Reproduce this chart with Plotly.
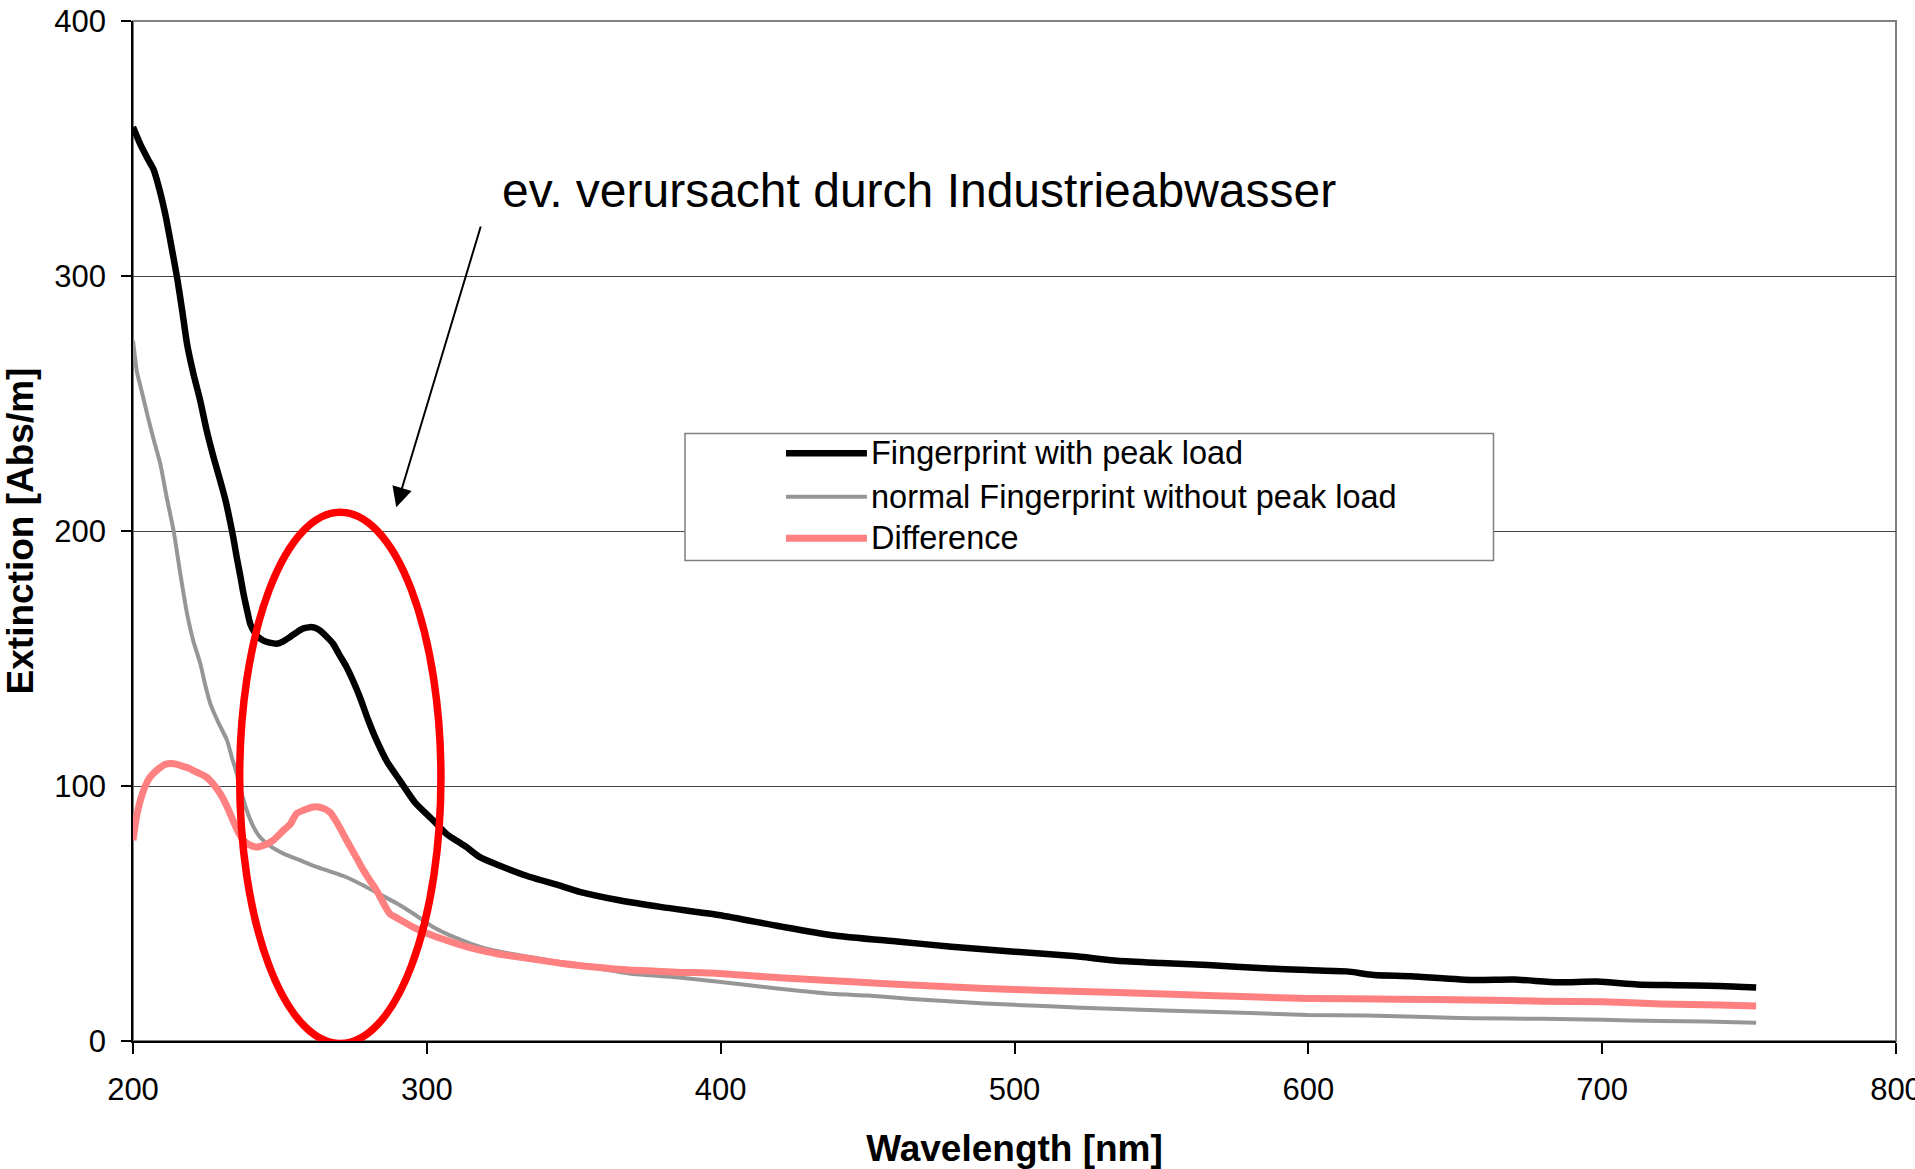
import plotly.graph_objects as go

# ---------------- data ----------------
wl_peak = [200, 202.5, 205, 207, 209, 211, 213, 215, 216.8, 218.4, 220.5, 222.9, 225.1, 227.4,
           229.7, 231.5, 233, 234.2, 235.3, 236.5, 237.6, 238.8, 239.9, 241.5, 243, 244.4, 246.5,
           248.9, 251, 253.4, 256, 258, 260.2, 262, 263.6, 265.5, 268.1, 270.2, 272.7, 275, 277.2,
           280, 282.9, 286.5, 290.8, 296, 302.1, 306.6, 313.4, 317.9, 324.7, 334.9, 345, 352, 365,
           380, 399.3, 420, 437.8, 460, 478.6, 500, 520, 535, 550, 565.7, 585, 599.6, 613, 622.3,
           635, 656.2, 670, 685, 698.3, 712, 725, 740, 752.4]
ext_peak = [358.4, 351.6, 346, 341.8, 334, 324.2, 312, 299.4, 286, 273.3, 262, 251, 239.3, 229,
            219.7, 212, 204, 197, 189.7, 182.5, 175.4, 169, 163.6, 160, 158, 157, 156.2,
            155.8, 156.6, 158.4, 160.5, 161.8, 162.3, 162, 161, 159, 155.8, 151.5, 146.6, 141, 134.9,
            126, 117.9, 109.5, 102.2, 93.5, 86.6, 81.3, 76.1, 72.2, 68.8, 64.4, 61, 58.5, 55.3,
            52.5, 49.4, 45, 41.5, 39, 37, 35, 33.3, 31.5, 30.6, 29.8, 28.5, 27.8, 27.3, 25.9,
            25.4, 23.9, 24.1, 23.0, 23.3, 22.2, 21.9, 21.6, 21.0]

wl_normal = [200, 201.4, 202.5, 204.8, 207, 209.3, 211.5, 213.8, 216, 218.4, 220.5, 222.9, 224.5,
             226.3, 229, 232, 233.7, 235.3, 237, 238.7, 241, 243.2, 246.6, 251.2, 256.8, 262, 267,
             272, 278.4, 284, 289.7, 294, 298.7, 302, 306.6, 312, 317.9, 325, 334.9, 350, 368.9,
             385, 399.3, 420, 439, 450, 465, 489.9, 510, 535.2, 566, 600, 620, 640, 656, 680, 700,
             720, 735, 752.4]
ext_normal = [274.6, 262, 257, 246, 236, 226.3, 213, 200.2, 184, 167.5, 157, 148, 140,
              132.3, 125, 117.9, 111, 104.9, 97, 90.5, 84, 80, 76.5, 73.5, 70.9, 68.5, 66.5,
              64.5, 61, 57.5, 54, 51, 47.4, 44.8, 42.1, 39.5, 37, 35, 33, 30, 26.5,
              25, 23.2, 20.5, 18.4, 17.8, 16.5, 14.7, 13.7, 12.5, 11.5, 10.2, 10.0, 9.4, 8.9, 8.7, 8.3,
              7.8, 7.6, 7.2]

wl_diff = [200, 201.2, 202.5, 204, 205.5, 207, 209, 211, 213, 215, 217, 219, 220.6, 222.5, 225,
           227.5, 229.7, 232, 234, 236, 237.6, 239.5, 242, 245, 247.7, 251.2, 253.5, 255.7, 258,
           261.4, 264, 267, 269.5, 272.7, 275.5, 278.4, 280.6, 282.9, 285, 287.4, 289.7, 295.3, 300,
           306.6, 314, 323.6, 335, 346.2, 357, 368.9, 385, 399.3, 420, 444.6, 465, 489.9, 510,
           535.2, 566, 600, 630, 656, 680, 700, 720, 740, 752.4]
ext_diff = [78.7, 88, 94.4, 99.5, 103, 105, 107, 108.5, 108.8, 108.5, 107.7, 107, 106, 105, 103.5,
            100.5, 97, 92, 86.6, 81.5, 78.7, 77, 76.1, 77, 78.7, 82.6, 85, 89.2, 90.5,
            91.8, 91.5, 89.8, 85.5, 78.7, 73, 67, 63, 59, 54.5, 49.9, 48.3, 44.7, 42.3,
            39.5, 36.8, 34.3, 32.3, 30.4, 29, 27.8, 27, 26.5, 24.8, 23.2, 22, 20.6, 19.8,
            19, 17.8, 16.7, 16.4, 16.1, 15.6, 15.4, 14.5, 14.1, 13.7]

series_names = ["Fingerprint with peak load", "normal Fingerprint without peak load", "Difference"]
series_colors = ["#000000", "#969696", "#FF8080"]
series_widths = [6.5, 4, 7]

annotation_text = "ev. verursacht durch Industrieabwasser"
x_ticks = [200, 300, 400, 500, 600, 700, 800]
y_ticks = [0, 100, 200, 300, 400]

FONT = "Arial, Liberation Sans, sans-serif"

fig = go.Figure()
for wl, ext, name, col, w in zip([wl_peak, wl_normal, wl_diff], [ext_peak, ext_normal, ext_diff],
                                 series_names, series_colors, series_widths):
    fig.add_trace(go.Scatter(x=wl, y=ext, mode="lines", name=name,
                             line=dict(color=col, width=w, shape="spline", smoothing=0.6),
                             showlegend=False))

fig.update_layout(
    width=1915, height=1169,
    margin=dict(l=133, r=19, t=21, b=128),
    plot_bgcolor="white", paper_bgcolor="white",
    font=dict(family=FONT, color="black", size=31),
    showlegend=False,
)
fig.update_xaxes(
    range=[200, 800], tickvals=x_ticks, ticks="outside", ticklen=11, tickwidth=1.5,
    tickcolor="black", showline=True, linecolor="black", linewidth=1.5,
    showgrid=False, zeroline=False, tickfont=dict(size=31, family=FONT),
    ticklabelstandoff=9, automargin=False, ticklabeloverflow="allow",
    title=dict(text="<b>Wavelength [nm]</b>", font=dict(size=37, family=FONT), standoff=30),
)
fig.update_yaxes(
    range=[0, 400], tickvals=y_ticks, ticks="outside", ticklen=10, tickwidth=1.5,
    tickcolor="black", showline=True, linecolor="black", linewidth=1.5,
    showgrid=True, gridcolor="#444444", gridwidth=1, zeroline=False,
    tickfont=dict(size=31, family=FONT), ticklabelstandoff=9, automargin=False,
    ticklabeloverflow="allow",
    title=dict(text="<b>Extinction [Abs/m]</b>", font=dict(size=37, family=FONT), standoff=22),
)

shapes = []
# plot-area frame (top/right in grey)
shapes.append(dict(type="rect", xref="paper", yref="paper", x0=0, x1=1, y0=0, y1=1,
                   line=dict(color="#808080", width=2), layer="below"))
# red ellipse highlighting the region
shapes.append(dict(type="circle", xref="x", yref="y", x0=236.3, x1=304.8, y0=-1.0, y1=207.4,
                   line=dict(color="#FF0000", width=7.5), layer="above"))
# legend box
lx0, lx1, ly0, ly1 = 0.3131, 0.7717, 0.4710, 0.5955
shapes.append(dict(type="rect", xref="paper", yref="paper", x0=lx0, x1=lx1, y0=ly0, y1=ly1,
                   fillcolor="white", line=dict(color="#808080", width=1.5), layer="above"))
row_y = [0.5762, 0.5336, 0.4928]
sx0, sx1, tx = 0.3704, 0.4163, 0.4172
annotations = []
for ry, name, col, w in zip(row_y, series_names, series_colors, series_widths):
    shapes.append(dict(type="line", xref="paper", yref="paper", x0=sx0, x1=sx1, y0=ry, y1=ry,
                       line=dict(color=col, width=w), layer="above"))
    annotations.append(dict(xref="paper", yref="paper", x=tx, y=ry, text=name, showarrow=False,
                            xanchor="left", yanchor="middle",
                            font=dict(size=32.5, family=FONT, color="black")))

# comment text and arrow
annotations.append(dict(xref="x", yref="y", x=467.5, y=333.5, text=annotation_text,
                        showarrow=False, xanchor="center", yanchor="middle",
                        font=dict(size=48, family=FONT, color="black")))
annotations.append(dict(xref="x", yref="y", x=289.6, y=209.3, axref="x", ayref="y",
                        ax=318.5, ay=320.0, text="", showarrow=True, arrowhead=2,
                        arrowsize=2, arrowwidth=2, arrowcolor="black", standoff=0))

fig.update_layout(shapes=shapes, annotations=annotations)
fig.write_html("out.html")
